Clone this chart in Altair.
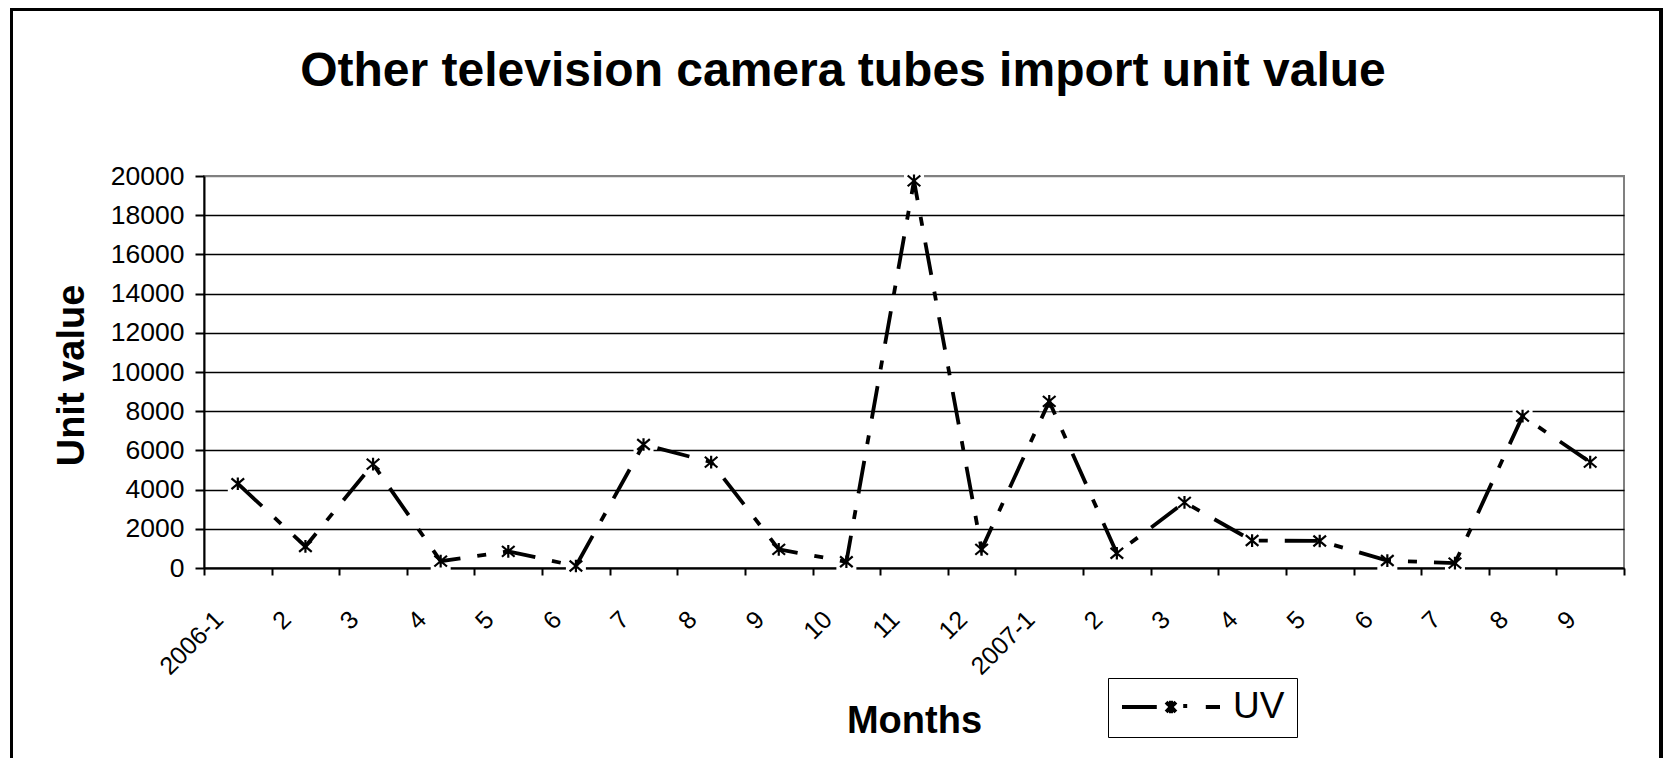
import altair as alt
import pandas as pd

# ---- data ----
months = ["2006-1", "2", "3", "4", "5", "6", "7", "8", "9", "10", "11", "12",
          "2007-1", "2", "3", "4", "5", "6", "7", "8", "9"]
uv_values = [4300, 1100, 5300, 350, 850, 100, 6300, 5400, 950, 320, 19750, 950,
             8500, 750, 3350, 1400, 1380, 380, 250, 7750, 5400]
series_name = "UV"
y_ticks = [0, 2000, 4000, 6000, 8000, 10000, 12000, 14000, 16000, 18000, 20000]

n = len(months)
df = pd.DataFrame({
    "idx": list(range(n)),
    "month": months,
    "uv": uv_values,
    "series": [series_name] * n,
})

FONT = "Liberation Sans"
W, H = 1420, 392

x_scale = alt.Scale(domain=[-0.5, n - 0.5], nice=False, zero=False)
y_scale = alt.Scale(domain=[0, 20000], nice=False, zero=True)

label_expr = "[" + ",".join("'" + m + "'" for m in months) + "][datum.value]"
boundaries = [i - 0.5 for i in range(n + 1)]

y_enc = alt.Y(
    "uv:Q", scale=y_scale,
    axis=alt.Axis(
        values=y_ticks, format="d", title="Unit value",
        titleFont=FONT, titleFontSize=38, titleFontWeight="bold", titleColor="black",
        titleAngle=270, titleX=-121, titleY=199, titleAlign="center",
        titleBaseline="alphabetic",
        labelFont=FONT, labelFontSize=26.5, labelColor="black", labelPadding=11,
        tickSize=9, tickWidth=2, tickColor="black",
        domainColor="black", domainWidth=2,
        grid=True, gridWidth=1.6,
        gridColor={"condition": {"test": "datum.value === 20000", "value": "#808080"},
                   "value": "black"},
    ),
)

star_path = "M-1,-0.85L1,0.85M1,-0.85L-1,0.85M0,-1L0,1"
legend_path = ("M-1,0L-0.29,0M-0.1,-0.1L0.1,0.1M0.1,-0.1L-0.1,0.1M0,-0.13L0,0.13"
               "M0.29,-0.06L0.29,0.02M0.71,0L1,0")

frame = alt.Chart(df).mark_rect(filled=False, stroke="black", strokeWidth=3).encode(
    x=alt.value(-192.5), x2=alt.value(1457), y=alt.value(-166.5), y2=alt.value(800)
)

halo = alt.Chart(df).mark_point(shape="square", filled=True, color="white",
                                 opacity=1, size=400).encode(
    x=alt.X("idx:Q", scale=x_scale, axis=None),
    y=y_enc,
)

line = alt.Chart(df).mark_line(strokeWidth=3.8, strokeDash=[33, 17, 9, 17],
                               strokeCap="butt").encode(
    x=alt.X("idx:Q", scale=x_scale,
            axis=alt.Axis(orient="bottom", values=boundaries, labels=False, ticks=True,
                          tickSize=7, tickWidth=2, tickColor="black", domain=True,
                          domainColor="black", domainWidth=2, grid=False, title=None)),
    y=y_enc,
    stroke=alt.Stroke(
        "series:N", scale=alt.Scale(range=["black"]),
        legend=alt.Legend(
            title=None, orient="none", legendX=904, legendY=502,
            symbolType=legend_path, symbolSize=9604, symbolStrokeWidth=4,
            symbolStrokeColor="black", symbolFillColor="transparent",
            symbolDash=[1, 0], clipHeight=34,
            labelFont=FONT, labelFontSize=37, labelColor="black", labelOffset=11,
            padding=12, strokeColor="black",
        ),
    ),
)

stars = alt.Chart(df).mark_point(shape=star_path, filled=False, color="black",
                                  strokeWidth=2.2, size=160, opacity=1).encode(
    x=alt.X("idx:Q", scale=x_scale,
            axis=alt.Axis(orient="bottom", values=list(range(n)), labelExpr=label_expr,
                          ticks=False, domain=False, grid=False, labelAngle=-45,
                          labelAlign="right", labelBaseline="middle", labelFont=FONT,
                          labelFontSize=25, labelColor="black", labelPadding=47,
                          labelOffset=-19, labelFlush=False, labelOverlap=False,
                          title="Months", titleFont=FONT, titleFontSize=38,
                          titleFontWeight="bold", titleColor="black",
                          titleX=W / 2, titleY=164, titleAlign="center",
                          titleBaseline="alphabetic")),
    y=y_enc,
)

chart = alt.layer(frame, halo, line, stars).resolve_axis(x="independent").properties(
    width=W, height=H,
    autosize=alt.AutoSizeParams(type="none"),
    padding={"left": 196, "top": 168, "right": 39, "bottom": 190},
    background="white",
    title=alt.TitleParams(
        text="Other television camera tubes import unit value",
        font=FONT, fontSize=48, fontWeight="bold", color="black",
        anchor="middle", frame="group", offset=-126, baseline="alphabetic", dx=-71,
    ),
).configure_view(stroke="#808080", strokeWidth=2)

chart.save("out.html", embed_options={"renderer": "svg", "actions": False})
